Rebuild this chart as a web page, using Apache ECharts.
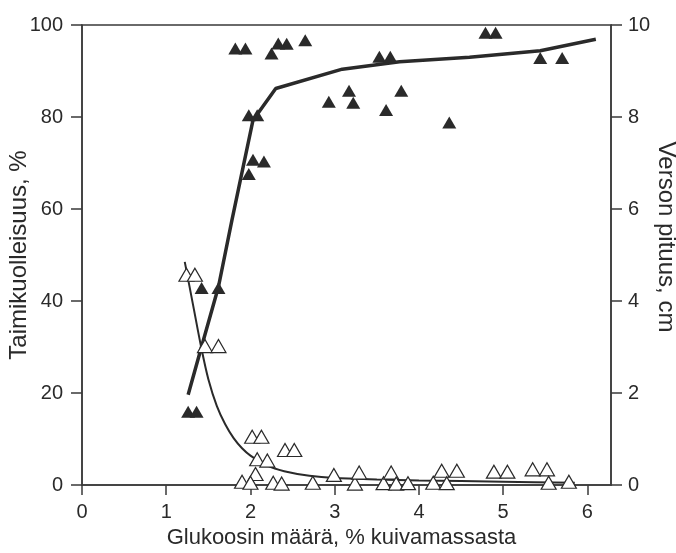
<!DOCTYPE html>
<html>
<head>
<meta charset="utf-8">
<script src="https://cdn.jsdelivr.net/npm/echarts@6/dist/echarts.min.js"></script>
<style>
html,body{margin:0;padding:0;background:#fff;}
#chart{width:676px;height:553px;}
</style>
</head>
<body>
<div id="chart"></div>
<script>
// Filled triangles: seedling mortality (%), left axis
const mortalityX = [1.82,1.94,2.25,2.33,2.43,2.65,3.53,3.66,2.93,3.17,3.22,3.79,3.61,1.98,2.08,2.03,2.16,1.98,4.79,4.91,5.44,5.70,4.36,1.42,1.62,1.26,1.36];
const mortalityY = [94.9,94.9,93.8,96.0,95.9,96.7,93.1,93.1,83.3,85.7,83.1,85.7,81.5,80.4,80.4,70.7,70.3,67.6,98.3,98.3,92.8,92.8,78.8,42.8,42.8,15.9,15.9];
// Open triangles: shoot length (cm), right axis
const shootX = [1.24,1.34,1.46,1.62,2.02,2.13,2.41,2.52,2.08,2.20,2.06,1.90,2.00,2.27,2.37,2.74,2.99,3.24,3.29,3.58,3.67,3.73,3.87,4.17,4.27,4.33,4.45,4.89,5.05,5.35,5.52,5.54,5.78];
const shootY = [4.57,4.57,3.02,3.02,1.05,1.05,0.76,0.76,0.56,0.53,0.24,0.07,0.05,0.05,0.03,0.05,0.22,0.03,0.27,0.04,0.27,0.03,0.04,0.05,0.31,0.04,0.31,0.29,0.29,0.34,0.34,0.05,0.07];
// Fitted curves
const mortFitX = [1.26,1.42,1.62,1.78,2.03,2.30,3.09,3.77,4.6,5.44,6.10];
const mortFitY = [19.6,30.1,43.1,57.6,79.3,86.2,90.4,92.0,93.0,94.4,96.9];
const shootFitX = [1.22,1.32,1.42,1.50,1.60,1.70,1.80,1.90,2.00,2.20,2.40,2.70,3.00,3.50,4.00,5.00,5.85];
const shootFitY = [4.85,3.90,2.95,2.30,1.72,1.32,1.02,0.80,0.64,0.42,0.30,0.20,0.15,0.12,0.10,0.07,0.05];
// Tick labels
const xTicks = [0,1,2,3,4,5,6];
const leftTicks = [0,20,40,60,80,100];
const rightTicks = [0,2,4,6,8,10];

const zip = (a,b) => a.map((v,i)=>[v,b[i]]);
const FONT = '"Liberation Sans", Arial, sans-serif';
const INK = '#2a2a2a';
const AX = '#3a3a3a';

const chart = echarts.init(document.getElementById('chart'), null, {renderer:'canvas'});
chart.setOption({
  animation:false,
  backgroundColor:'#fff',
  grid:{left:82,right:65,top:25,bottom:68,containLabel:false,outerBoundsMode:'none',
    show:true,borderColor:AX,borderWidth:1.5,backgroundColor:'transparent'},
  xAxis:{
    type:'value',min:0,max:6.28,
    name:'Glukoosin määrä, % kuivamassasta',nameLocation:'middle',nameGap:42,nameMoveOverlap:false,
    nameTextStyle:{fontFamily:FONT,fontSize:22,color:INK,padding:[0,0,0,-10]},
    axisLine:{show:true,lineStyle:{color:AX,width:1.5}},
    axisTick:{show:true,length:10,customValues:xTicks,lineStyle:{color:AX,width:1.5}},
    axisLabel:{customValues:xTicks,margin:17,fontFamily:FONT,fontSize:20,color:INK},
    splitLine:{show:false}
  },
  yAxis:[{
    type:'value',min:0,max:100,interval:20,position:'left',
    name:'Taimikuolleisuus, %',nameLocation:'middle',nameGap:51,nameMoveOverlap:false,
    nameTextStyle:{fontFamily:FONT,fontSize:24,color:INK},
    axisLine:{show:true,lineStyle:{color:AX,width:1.5}},
    axisTick:{show:true,length:11,lineStyle:{color:AX,width:1.5}},
    axisLabel:{margin:19,fontFamily:FONT,fontSize:20,color:INK,formatter:v=>leftTicks.includes(v)?String(v):''},
    splitLine:{show:false}
  },{
    type:'value',min:0,max:10,interval:2,position:'right',
    name:'Verson pituus, cm',nameLocation:'middle',nameGap:43,nameRotate:-90,nameMoveOverlap:false,
    nameTextStyle:{fontFamily:FONT,fontSize:24,color:INK,padding:[0,36,0,0]},
    axisLine:{show:true,lineStyle:{color:AX,width:1.5}},
    axisTick:{show:true,length:11,lineStyle:{color:AX,width:1.5}},
    axisLabel:{margin:17,fontFamily:FONT,fontSize:20,color:INK,formatter:v=>rightTicks.includes(v)?String(v):''},
    splitLine:{show:false}
  }],
  series:[
    {type:'line',yAxisIndex:0,data:zip(mortFitX,mortFitY),smooth:false,symbol:'none',
      lineStyle:{color:INK,width:3.5},z:2},
    {type:'line',yAxisIndex:1,data:zip(shootFitX,shootFitY),smooth:0.3,symbol:'none',
      lineStyle:{color:INK,width:2},z:2},
    {type:'scatter',yAxisIndex:0,data:zip(mortalityX,mortalityY),symbol:'triangle',symbolSize:[14,12],
      itemStyle:{color:INK,opacity:1},z:4},
    {type:'scatter',yAxisIndex:1,data:zip(shootX,shootY),symbol:'triangle',symbolSize:[15,13],
      itemStyle:{color:'#fff',borderColor:INK,borderWidth:1.2,opacity:1},z:5}
  ]
});
</script>
</body>
</html>
